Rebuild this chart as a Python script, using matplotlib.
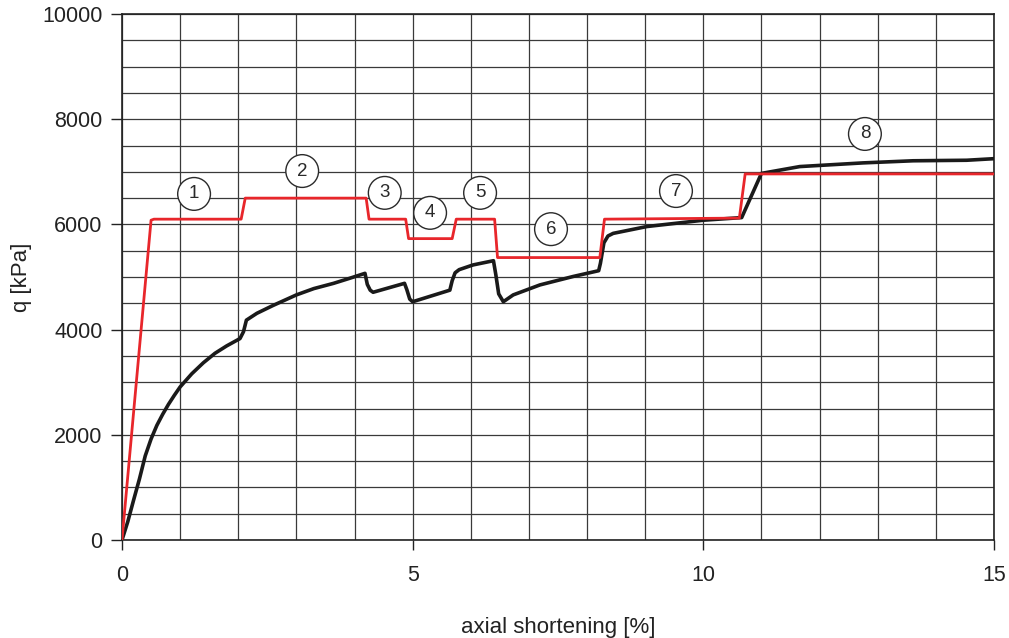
import matplotlib.pyplot as plt
from matplotlib.ticker import MultipleLocator

plt.rcParams['font.family'] = ['Liberation Sans', 'DejaVu Sans']

# Applied load path (red) - stepwise stages
load_x = [0, 0.5, 0.55, 2.05, 2.12, 4.2, 4.25, 4.88, 4.93, 5.68, 5.75, 6.41, 6.46, 8.22, 8.3, 10.62, 10.72, 15.0]
load_q = [0, 6080, 6100, 6100, 6500, 6500, 6100, 6100, 5730, 5730, 6100, 6100, 5370, 5370, 6100, 6120, 6960, 6960]

# Measured response (black)
resp_x = [0, 0.1, 0.2, 0.3, 0.4, 0.5, 0.6, 0.7, 0.8, 0.9, 1.0, 1.2, 1.4, 1.6, 1.8, 2.03,
          2.09, 2.14, 2.32, 2.6, 3.0, 3.3, 3.64, 3.9, 4.18, 4.22, 4.27, 4.32, 4.86, 4.9, 4.95, 5.0,
          5.64, 5.68, 5.73, 5.8, 6.04, 6.39, 6.43, 6.48, 6.56,
          6.73, 7.19, 7.76, 8.2, 8.23, 8.29, 8.36, 8.45, 9.03, 10.0, 10.66, 11.0, 11.66, 12.75,
          13.61, 14.53, 15.0]
resp_q = [0, 350, 760, 1160, 1600, 1920, 2180, 2390, 2580, 2750, 2910, 3160, 3370, 3550, 3690, 3830,
          3960, 4180, 4310, 4460, 4660, 4780, 4880, 4970, 5070, 4860, 4750, 4710, 4880, 4760, 4580, 4530,
          4750, 4930, 5080, 5140, 5230, 5310, 5050, 4680, 4530,
          4660, 4850, 5010, 5120, 5260, 5650, 5780, 5830, 5960, 6080, 6130, 6970, 7100, 7170,
          7210, 7220, 7250]

# Stage labels
stage_labels = ['1', '2', '3', '4', '5', '6', '7', '8']
stage_x = [1.24, 3.1, 4.52, 5.3, 6.16, 7.38, 9.53, 12.78]
stage_q = [6580, 7015, 6600, 6220, 6600, 5910, 6635, 7720]

fig = plt.figure(figsize=(10.09, 6.38), dpi=100)
ax = fig.add_axes([0.1209, 0.1536, 0.8642, 0.8244])

ax.plot(resp_x, resp_q, color='#1a1a1a', lw=2.6, zorder=3, solid_joinstyle='round')
ax.plot(load_x, load_q, color='#e8262b', lw=2.0, zorder=4)

for lab, x, q in zip(stage_labels, stage_x, stage_q):
    ax.text(x, q, lab, ha='center', va='center', fontsize=13.5, color='#2a2a2a', zorder=5,
            bbox=dict(boxstyle='circle,pad=0.42', fc='white', ec='#2a2a2a', lw=1.0))

ax.set_xlim(0, 15)
ax.set_ylim(0, 10000)
ax.xaxis.set_major_locator(MultipleLocator(5))
ax.xaxis.set_minor_locator(MultipleLocator(1))
ax.yaxis.set_major_locator(MultipleLocator(2000))
ax.yaxis.set_minor_locator(MultipleLocator(500))
ax.grid(which='both', color='#3a3a3a', lw=0.9)
ax.set_axisbelow(True)
ax.tick_params(which='major', direction='out', length=8, width=1, labelsize=15.5, colors='#222222')
ax.tick_params(which='minor', length=0)
ax.tick_params(axis='x', length=7, pad=11)
ax.tick_params(axis='y', pad=6)
for s in ax.spines.values():
    s.set_color('#222222')
    s.set_linewidth(1.2)

ax.set_xlabel('axial shortening [%]', fontsize=16, color='#222222', labelpad=22)
ax.set_ylabel('q [kPa]', fontsize=16, color='#222222', labelpad=7)

fig.savefig('out.png', dpi=100)
